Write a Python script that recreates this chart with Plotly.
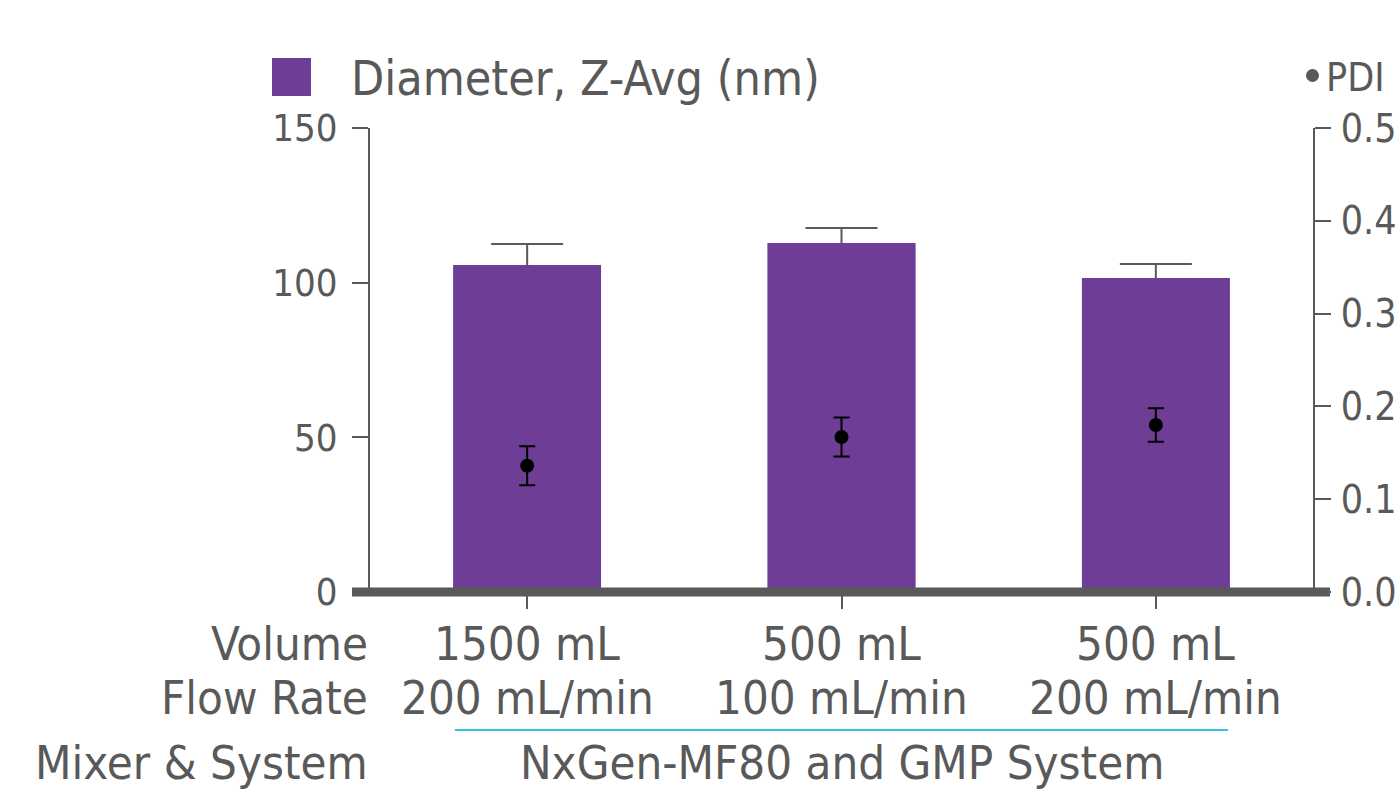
import plotly.graph_objects as go

volumes = ["1500 mL", "500 mL", "500 mL"]
flow_rates = ["200 mL/min", "100 mL/min", "200 mL/min"]
diameter = [105.7, 112.8, 101.5]
diameter_err = [6.8, 4.9, 4.5]
pdi = [0.136, 0.167, 0.180]
pdi_err = [0.021, 0.021, 0.018]
row_labels = ["Volume", "Flow Rate", "Mixer & System"]
group_label = "NxGen-MF80 and GMP System"
y_ticks = [0, 50, 100, 150]
y2_ticks = [0.0, 0.1, 0.2, 0.3, 0.4, 0.5]

FONT = "DejaVu Sans Condensed, Noto Sans, sans-serif"
GRAY = "#595959"
PURPLE = "#6E3D96"
CYAN = "#3CC3DA"

xs = list(range(len(volumes)))

fig = go.Figure()
# bars with their upper error bars (main subplot); the lower part is hidden
# under a copy of the bars drawn on an overlaid axis
fig.add_trace(go.Bar(
    x=xs, y=diameter, width=0.47, marker=dict(color=PURPLE, line=dict(width=0)),
    name="Diameter, Z-Avg (nm)",
    error_y=dict(type="data", symmetric=False, array=diameter_err,
                 arrayminus=[2] * 3, color=GRAY, thickness=2, width=36),
    showlegend=False, hoverinfo="skip",
))
fig.add_trace(go.Bar(
    x=xs, y=diameter, width=0.47, yaxis="y2",
    marker=dict(color=PURPLE, line=dict(width=0)),
    name="Diameter, Z-Avg (nm)", showlegend=False,
))
fig.add_trace(go.Scatter(
    x=xs, y=pdi, yaxis="y3", mode="markers", name="PDI",
    marker=dict(color="black", size=14),
    error_y=dict(type="data", array=pdi_err, color="black", thickness=2, width=8),
    showlegend=False,
))

W, H = 1399, 791
L, R, T, B = 370, 86, 128, 199
pw, ph = W - L - R, H - T - B

def px(x):
    return (x - L) / pw

def py(y):
    return (H - B - y) / ph

fig.update_layout(
    width=W, height=H,
    margin=dict(l=L, r=R, t=T, b=B, pad=0, autoexpand=False),
    paper_bgcolor="white", plot_bgcolor="white",
    font=dict(family=FONT, color=GRAY, size=47),
    xaxis=dict(
        range=[-0.5, 2.5], tickvals=xs, showticklabels=False, automargin=False,
        showline=False, showgrid=False, zeroline=False,
        ticks="outside", ticklen=16, tickwidth=2, tickcolor=GRAY,
    ),
    yaxis=dict(
        range=[0, 150], tickvals=y_ticks, showgrid=False, zeroline=False,
        showline=True, linecolor=GRAY, linewidth=2, automargin=False,
        ticks="outside", ticklen=16, tickwidth=2, tickcolor=GRAY,
        tickfont=dict(size=38, color=GRAY, family=FONT),
        ticklabelstandoff=7,
    ),
    yaxis2=dict(
        range=[0, 150], overlaying="y", side="left", visible=False,
        showgrid=False, zeroline=False, automargin=False,
    ),
    yaxis3=dict(
        range=[0, 0.5], tickvals=y2_ticks, tickformat=".1f",
        overlaying="y", side="right", showgrid=False, zeroline=False,
        showline=True, linecolor=GRAY, linewidth=2, automargin=False,
        ticks="outside", ticklen=16, tickwidth=2, tickcolor=GRAY,
        tickfont=dict(size=39, color=GRAY, family=FONT),
        ticklabelstandoff=2,
    ),
    showlegend=False,
)

shapes = [
    dict(type="line", xref="paper", yref="paper", x0=px(352), x1=px(1330), y0=py(592), y1=py(592),
         line=dict(color=GRAY, width=9)),
    dict(type="line", xref="x", yref="paper", x0=-0.23, x1=2.23, y0=py(730), y1=py(730),
         line=dict(color=CYAN, width=2)),
    dict(type="rect", xref="paper", yref="paper", x0=px(272), x1=px(311), y0=py(96), y1=py(58),
         fillcolor=PURPLE, line=dict(width=0)),
    dict(type="circle", xref="paper", yref="paper", x0=px(1306), x1=px(1319), y0=py(82), y1=py(69),
         fillcolor=GRAY, line=dict(width=0)),
]
fig.update_layout(shapes=shapes)

ann = [
    dict(text="Diameter, Z-Avg (nm)", x=px(349), y=py(78), xanchor="left", yanchor="middle",
         font=dict(size=48)),
    dict(text="PDI", x=px(1324), y=py(78), xanchor="left", yanchor="middle",
         font=dict(size=39)),
    dict(text=row_labels[0], x=px(370), y=py(643), xanchor="right", yanchor="middle"),
    dict(text=row_labels[1], x=px(370), y=py(697), xanchor="right", yanchor="middle"),
    dict(text=row_labels[2], x=px(370), y=py(763), xanchor="right", yanchor="middle"),
]
for a in ann:
    a.update(xref="paper", yref="paper", showarrow=False)
    a.setdefault("font", dict(size=47))
    a["font"].update(family=FONT, color=GRAY)
for i in xs:
    ann.append(dict(text=volumes[i], xref="x", yref="paper", x=i, y=py(643),
                    xanchor="center", yanchor="middle", showarrow=False,
                    font=dict(size=47, family=FONT, color=GRAY)))
    ann.append(dict(text=flow_rates[i], xref="x", yref="paper", x=i, y=py(697),
                    xanchor="center", yanchor="middle", showarrow=False,
                    font=dict(size=47, family=FONT, color=GRAY)))
ann.append(dict(text=group_label, xref="x", yref="paper", x=1, y=py(763),
                xanchor="center", yanchor="middle", showarrow=False,
                font=dict(size=47, family=FONT, color=GRAY)))
fig.update_layout(annotations=ann)

fig.write_html("out.html")
